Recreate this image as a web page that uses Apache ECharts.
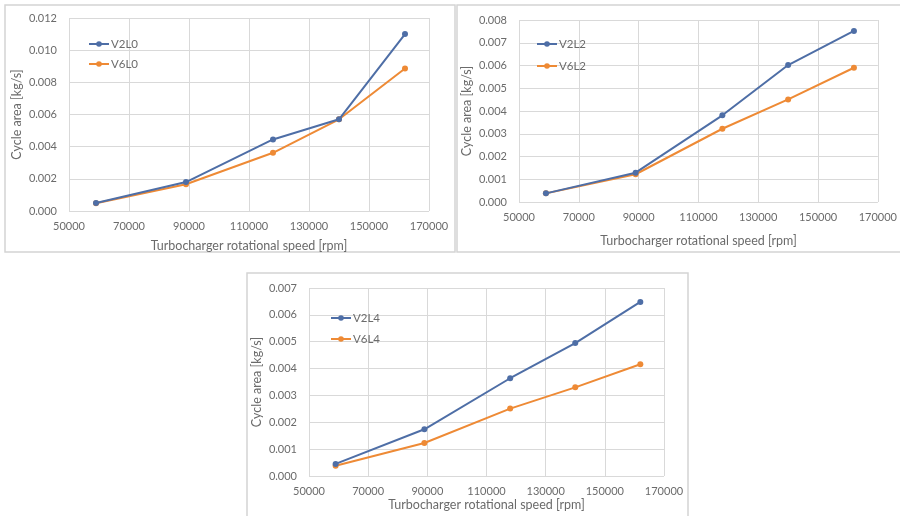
<!DOCTYPE html>
<html>
<head>
<meta charset="utf-8">
<script src="https://cdn.jsdelivr.net/npm/echarts@6/dist/echarts.min.js"></script>
<style>
  html, body { margin: 0; padding: 0; background: #fff; }
  #main { width: 900px; height: 516px; }
</style>
</head>
<body>
<div id="main"></div>
<script>
// turbocharger speeds [rpm], shared by all three panels
var speeds = [59000, 89000, 118000, 140000, 162000];

// L0 panel
var v2l0 = [0.0005, 0.0018, 0.00445, 0.0057, 0.0110];
var v6l0 = [0.00048, 0.00166, 0.00362, 0.0057, 0.00886];
// L2 panel
var v2l2 = [0.00038, 0.00129, 0.00381, 0.00602, 0.00752];
var v6l2 = [0.00038, 0.00122, 0.00322, 0.00451, 0.0059];
// L4 panel
var v2l4 = [0.00045, 0.00174, 0.00364, 0.00495, 0.00648];
var v6l4 = [0.00038, 0.00123, 0.00251, 0.0033, 0.00416];

var xTicks = [50000, 70000, 90000, 110000, 130000, 150000, 170000];
var yMax = [0.012, 0.008, 0.007];
var yStep = [0.002, 0.001, 0.001];

var BLUE = '#4e6ea6';
var ORANGE = '#ee8a35';
var GRID = '#d9d9d9';
var TXT = '#6b6b6b';
var FONT = 'Lato';

function pairs(vals) {
    return speeds.map(function (s, i) { return [s, vals[i]]; });
}

// plot boxes
var boxes = [
    { left: 69,  top: 18,  width: 360, height: 193 },
    { left: 519, top: 20,  width: 359, height: 182 },
    { left: 309, top: 288, width: 355, height: 188 }
];
var xNameGap = [28, 32, 22];

var xAxes = boxes.map(function (b, i) {
    return {
        type: 'value', gridIndex: i,
        min: xTicks[0], max: xTicks[xTicks.length - 1], interval: 20000,
        name: 'Turbocharger rotational speed [rpm]',
        nameLocation: 'middle', nameGap: xNameGap[i],
        nameTextStyle: { color: TXT, fontSize: 12.5, fontFamily: FONT },
        axisLine: { show: false },
        axisTick: { show: false },
        axisLabel: {
            color: TXT, fontSize: 11, fontFamily: FONT, margin: 10,
            formatter: function (v) { return String(v); }
        },
        splitLine: { show: true, lineStyle: { color: GRID, width: 1 } }
    };
});

var yAxes = boxes.map(function (b, i) {
    return {
        type: 'value', gridIndex: i,
        min: 0, max: yMax[i], interval: yStep[i],
        name: 'Cycle area [kg/s]',
        nameLocation: 'middle', nameGap: 46,
        nameTextStyle: { color: TXT, fontSize: 12.5, fontFamily: FONT },
        axisLine: { show: false },
        axisTick: { show: false },
        axisLabel: {
            color: TXT, fontSize: 11, fontFamily: FONT, margin: 12,
            formatter: function (v) { return v.toFixed(3); }
        },
        splitLine: { show: true, lineStyle: { color: GRID, width: 1 } }
    };
});

function line(name, vals, color, idx) {
    return {
        name: name, type: 'line',
        xAxisIndex: idx, yAxisIndex: idx,
        data: pairs(vals),
        symbol: 'circle', symbolSize: 6,
        lineStyle: { color: color, width: 2 },
        itemStyle: { color: color },
        z: color == BLUE ? 3 : 2
    };
}

function legend(names, left, top, gap) {
    return {
        orient: 'vertical', left: left, top: top, itemGap: gap,
        itemWidth: 20, itemHeight: 7,
        textStyle: { color: TXT, fontSize: 11.5, fontFamily: FONT, padding: [0, 0, 0, -3] },
        data: names
    };
}

// panel frames
function frame(x, y, w, h) {
    return {
        type: 'rect', shape: { x: x, y: y, width: w, height: h },
        style: { fill: null, stroke: '#d4d4d4', lineWidth: 1.5 }, silent: true
    };
}

var chart = echarts.init(document.getElementById('main'));
chart.setOption({
    animation: false,
    backgroundColor: '#fff',
    graphic: [
        frame(5, 5, 450, 247),
        frame(457, 5, 450, 247),
        frame(247, 273, 441, 250)
    ],
    grid: boxes.map(function (b) {
        return { left: b.left, top: b.top, width: b.width, height: b.height, containLabel: false };
    }),
    xAxis: xAxes,
    yAxis: yAxes,
    legend: [
        legend(['V2L0', 'V6L0'], 83, 33, 8),
        legend(['V2L2', 'V6L2'], 531, 33, 10),
        legend(['V2L4', 'V6L4'], 325, 307, 9)
    ],
    series: [
        line('V2L0', v2l0, BLUE, 0),
        line('V6L0', v6l0, ORANGE, 0),
        line('V2L2', v2l2, BLUE, 1),
        line('V6L2', v6l2, ORANGE, 1),
        line('V2L4', v2l4, BLUE, 2),
        line('V6L4', v6l4, ORANGE, 2)
    ]
});
</script>
</body>
</html>
